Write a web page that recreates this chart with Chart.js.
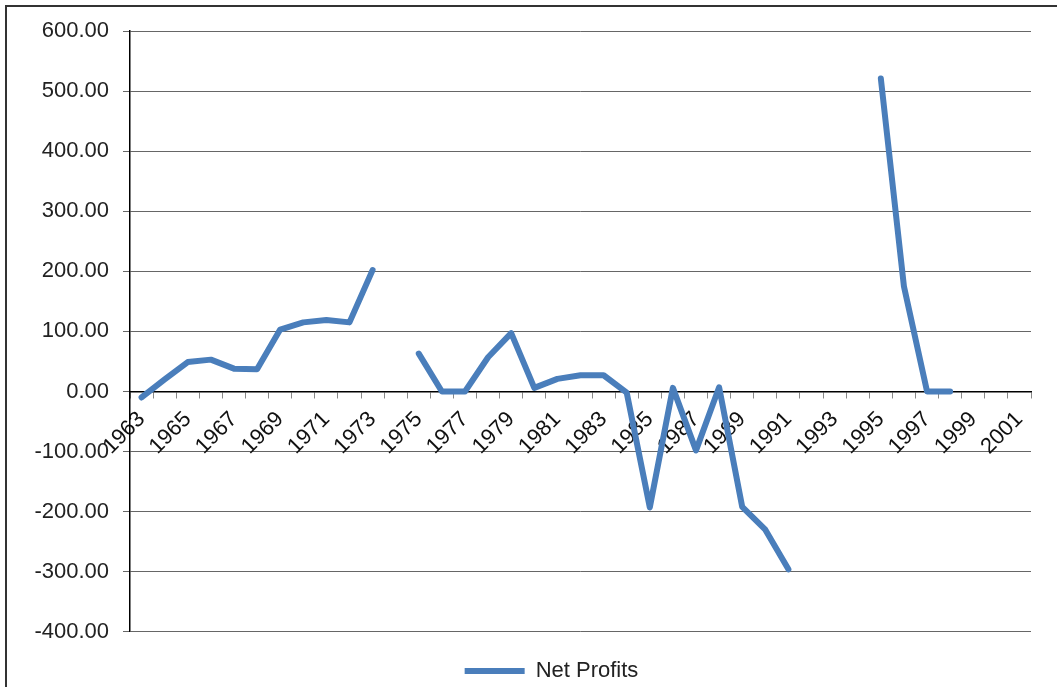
<!DOCTYPE html>
<html>
<head>
<meta charset="utf-8">
<script src="https://cdn.jsdelivr.net/npm/chart.js@4"></script>
<style>
  html, body { margin: 0; padding: 0; background: #fff; overflow: hidden; }
  #frame { position: absolute; left: 5px; top: 5px; width: 1060px; height: 700px;
           border-top: 2px solid #333; border-left: 2px solid #333; }
  #wrap { position: absolute; left: 0; top: 0; width: 1057px; height: 692px; }
</style>
</head>
<body>
<div id="frame"></div>
<div id="wrap"><canvas id="chart"></canvas></div>
<script>
// years on the x axis
const years = [];
for (let y = 1963; y <= 2001; y++) years.push(String(y));

// net profits per year, null where there is no value
const netProfits = [
  -10, 20, 49, 53, 38, 37, 103, 115, 119, 115, 202, null,
  63, 0, 0, 57, 97, 6, 21, 27, 27, -2,
  -193, 6, -98, 7, -192, -230, -296,
  null, null, null,
  521, 175, 0, 0,
  null, null, null
];

const yMin = -400;
const yMax = 600;
const yStep = 100;

const ctx = document.getElementById('chart');

// move the legend a little to the right, like the original
const legendShift = {
  id: 'legendShift',
  afterLayout(chart) {
    chart.legend.left += 36;
    chart.legend.right += 36;
  }
};

new Chart(ctx, {
  type: 'line',
  data: {
    labels: years,
    datasets: [{
      label: 'Net Profits',
      data: netProfits,
      borderColor: '#4a7ebb',
      backgroundColor: '#4a7ebb',
      borderWidth: 6,
      borderJoinStyle: 'round',
      borderCapStyle: 'round',
      pointRadius: 0,
      pointHoverRadius: 0,
      pointStyle: 'line',
      spanGaps: false,
      tension: 0
    }]
  },
  options: {
    responsive: true,
    maintainAspectRatio: false,
    animation: false,
    layout: { autoPadding: false, padding: { top: 31, right: 26, left: 0, bottom: 0 } },
    plugins: {
      tooltip: { enabled: false },
      legend: {
        position: 'bottom',
        title: { display: true, text: ' ', font: { size: 1 }, padding: 11 },
        labels: {
          usePointStyle: true,
          pointStyleWidth: 60,
          color: '#222',
          padding: 5,
          font: { family: 'Liberation Sans, Arial, sans-serif', size: 22 }
        }
      }
    },
    scales: {
      x: {
        type: 'category',
        position: { y: 0 },
        offset: true,
        grid: {
          offset: true,
          drawOnChartArea: false,
          drawTicks: true,
          tickLength: 6,
          color: '#888'
        },
        border: { color: '#000', width: 1.5 },
        ticks: {
          autoSkip: false,
          minRotation: 45,
          maxRotation: 45,
          padding: 9,
          color: '#111',
          font: { family: 'Liberation Sans, Arial, sans-serif', size: 22 },
          callback: function (val, i) { return i % 2 === 0 ? this.getLabelForValue(val) : ''; }
        }
      },
      y: {
        min: yMin,
        max: yMax,
        afterFit(scale) { scale.width = 130; },
        grid: {
          color: '#666',
          tickLength: 7,
          lineWidth: 1
        },
        border: { color: '#000', width: 1.5 },
        ticks: {
          stepSize: yStep,
          padding: 14,
          color: '#222',
          font: { family: 'Liberation Sans, Arial, sans-serif', size: 22 },
          callback: v => v.toFixed(2)
        }
      }
    }
  },
  plugins: [legendShift]
});
</script>
</body>
</html>
